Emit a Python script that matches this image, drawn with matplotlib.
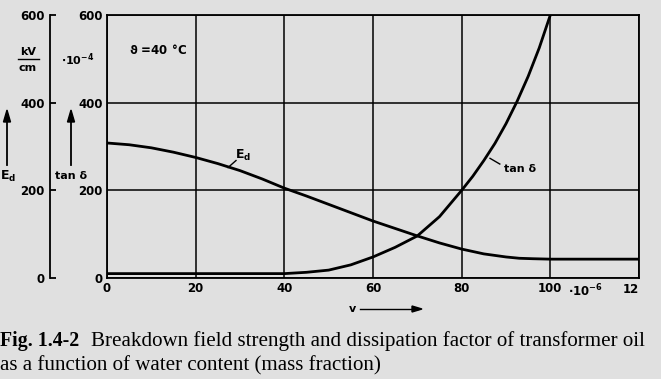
import numpy as np
import matplotlib.pyplot as plt

# water content v in 1e-6 (mass fraction)
v_ed = [0, 5, 10, 15, 20, 25, 30, 35, 40, 45, 50, 55, 60, 65, 70, 75, 80, 85, 90, 93, 96, 100, 110, 120]
ed = [308, 304, 297, 287, 275, 261, 245, 226, 205, 187, 168, 149, 130, 113, 96, 80, 66, 55, 48, 45, 44, 43, 43, 43]

v_tan = [0, 10, 20, 30, 40, 45, 50, 55, 60, 65, 70, 75, 80, 82.5, 85, 87.5, 90, 92.5, 95, 97.5, 100]
tan_d = [10, 10, 10, 10, 10, 13, 18, 30, 48, 70, 96, 140, 200, 232, 268, 307, 352, 403, 460, 525, 600]

x_ticks = [0, 20, 40, 60, 80, 100]
y_ticks = [0, 200, 400, 600]

bg = '#e0e0e0'
fig = plt.figure(figsize=(6.61, 3.79), dpi=100, facecolor=bg)

W, H = 661, 379
left, right, top, bottom = 107, 639, 15, 278
ax = fig.add_axes([left / W, (H - bottom) / H, (right - left) / W, (bottom - top) / H])
ax.set_facecolor(bg)

ax.plot(v_ed, ed, color='black', lw=2.0, solid_capstyle='butt')
ax.plot(v_tan, tan_d, color='black', lw=2.0, solid_capstyle='butt')

ax.set_xlim(0, 120)
ax.set_ylim(0, 600)
ax.set_xticks(x_ticks + [120])
ax.set_xticklabels([str(t) for t in x_ticks] + [''])
ax.set_yticks(y_ticks)
ax.grid(True, color='black', lw=1.1)
for s in ax.spines.values():
    s.set_linewidth(1.3)
ax.tick_params(length=0, labelsize=8.5, pad=3)
for lab in ax.get_xticklabels() + ax.get_yticklabels():
    lab.set_fontweight('bold')

fs = 8.5
ax.text(120, -12, '12', ha='right', va='top', fontsize=fs, fontweight='bold')
ax.text(112, -10, r'$\mathbf{\cdot 10^{-6}}$', ha='right', va='top', fontsize=fs, fontweight='bold')
ax.text(5, 520, r'$\mathbf{\vartheta}$ =40 °C', fontsize=fs, fontweight='bold', va='center')
ax.text(28.9, 271, r'E$_\mathbf{d}$', fontsize=9, fontweight='bold', va='baseline')
ax.plot([27.3, 29.1], [252, 268], color='black', lw=1)
ax.text(89.5, 248, 'tan δ', fontsize=8, fontweight='bold', va='center')
ax.plot([86.4, 88.6], [273, 260], color='black', lw=1)

# x-label with arrow
fig.text(352 / W, 1 - 309 / H, 'v', ha='center', va='center', fontsize=8, fontweight='bold')
fig.add_artist(plt.Line2D([360 / W, 418 / W], [1 - 309 / H] * 2, color='black', lw=1))
fig.add_artist(plt.Polygon([[412 / W, 1 - 306 / H], [422 / W, 1 - 309 / H], [412 / W, 1 - 312 / H]],
                           closed=True, color='black', transform=fig.transFigure))

# tan delta axis annotations
fig.text(94 / W, 1 - 60 / H, r'$\mathbf{\cdot 10^{-4}}$', ha='right', va='center', fontsize=8)
fig.text(71 / W, 1 - 176 / H, 'tan δ', ha='center', va='center', fontsize=8, fontweight='bold')
fig.add_artist(plt.Line2D([71 / W] * 2, [1 - 165 / H, 1 - 118 / H], color='black', lw=1.3))
fig.add_artist(plt.Polygon([[67.5 / W, 1 - 122 / H], [71 / W, 1 - 110 / H], [74.5 / W, 1 - 122 / H]],
                           closed=True, color='black', transform=fig.transFigure))

# separate E_d scale
ax2 = fig.add_axes([50 / W, (H - bottom) / H, 0.001, (bottom - top) / H])
ax2.patch.set_visible(False)
for k in ['top', 'right', 'bottom']:
    ax2.spines[k].set_visible(False)
ax2.spines['left'].set_linewidth(1.3)
ax2.set_ylim(0, 600)
ax2.set_yticks(y_ticks)
ax2.set_xticks([])
ax2.tick_params(axis='y', direction='in', length=4, width=1.3, labelsize=8.5, pad=4)
for lab in ax2.get_yticklabels():
    lab.set_fontweight('bold')

fig.text(28 / W, 1 - 52 / H, 'kV', ha='center', va='center', fontsize=8, fontweight='bold')
fig.add_artist(plt.Line2D([18 / W, 39 / W], [1 - 59 / H] * 2, color='black', lw=1))
fig.text(28 / W, 1 - 68 / H, 'cm', ha='center', va='center', fontsize=8, fontweight='bold')
fig.text(8 / W, 1 - 176 / H, r'E$_\mathbf{d}$', ha='center', va='center', fontsize=9, fontweight='bold')
fig.add_artist(plt.Line2D([7 / W] * 2, [1 - 165 / H, 1 - 118 / H], color='black', lw=1.3))
fig.add_artist(plt.Polygon([[3.5 / W, 1 - 122 / H], [7 / W, 1 - 110 / H], [10.5 / W, 1 - 122 / H]],
                           closed=True, color='black', transform=fig.transFigure))

# caption
cap = dict(family='Liberation Serif', va='center')
fig.text(0 / W, 1 - 341 / H, 'Fig. 1.4-2', fontweight='bold', fontsize=14.3, **cap)
fig.text(91 / W, 1 - 341 / H,
         'Breakdown field strength and dissipation factor of transformer oil', fontsize=15.1, **cap)
fig.text(0 / W, 1 - 366 / H, 'as a function of water content (mass fraction)', fontsize=15.1, **cap)

fig.savefig('out.png', dpi=100, facecolor=bg)
